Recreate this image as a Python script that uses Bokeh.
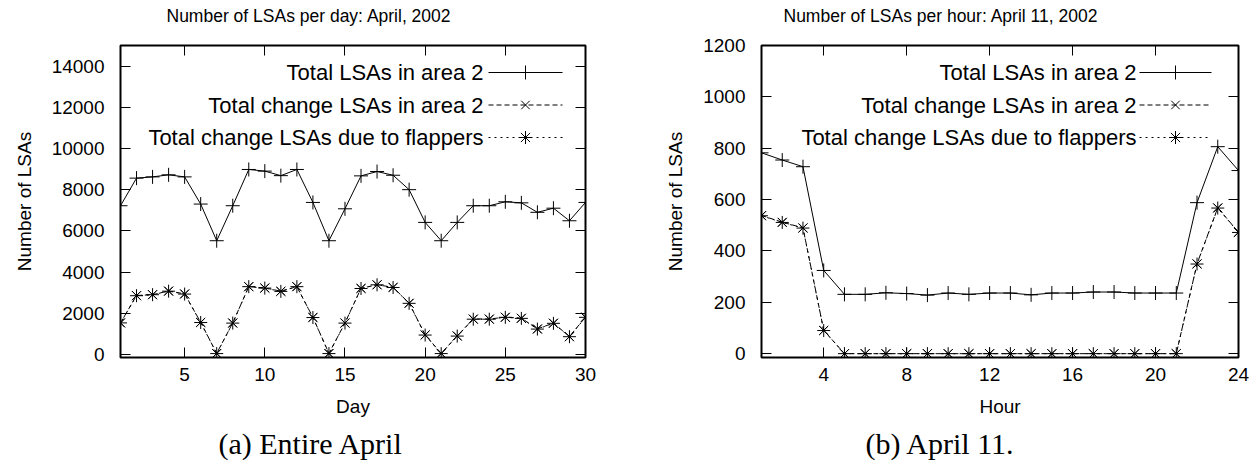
from bokeh.plotting import figure
from bokeh.layouts import row
from bokeh.models import Range1d, FixedTicker, LinearAxis, Title
from bokeh.core.properties import value
from bokeh.embed import file_html
from bokeh.resources import INLINE

# ---------------- data ----------------
days = list(range(1, 31))
april_total = [7220, 8560, 8620, 8720, 8620, 7300, 5520, 7220, 8980, 8900,
               8680, 8980, 7380, 5520, 7070, 8670, 8880, 8700, 8000, 6410,
               5520, 6410, 7220, 7220, 7410, 7360, 6900, 7100, 6490, 7380]
april_change = [1530, 2860, 2900, 3080, 2940, 1560, 50, 1530, 3290, 3230,
                3070, 3290, 1800, 50, 1530, 3210, 3380, 3260, 2490, 950,
                50, 900, 1720, 1720, 1810, 1760, 1240, 1520, 870, 1810]
april_flappers = [1530, 2850, 2900, 3070, 2930, 1550, 40, 1520, 3290, 3220,
                  3060, 3290, 1790, 40, 1520, 3200, 3380, 3250, 2480, 940,
                  40, 890, 1710, 1710, 1800, 1750, 1230, 1510, 860, 1800]

hours = list(range(1, 25))
hour_total = [782, 754, 728, 324, 231, 231, 237, 234, 228, 236, 231, 236,
              236, 229, 236, 236, 240, 240, 236, 236, 236, 588, 806, 713]
hour_change = [538, 512, 490, 91, 0, 0, 0, 0, 0, 0, 0, 0,
               0, 0, 0, 0, 0, 0, 0, 0, 0, 350, 568, 473]
hour_flappers = [537, 511, 489, 90, 0, 0, 0, 0, 0, 0, 0, 0,
                 0, 0, 0, 0, 0, 0, 0, 0, 0, 349, 567, 472]

series_labels = ["Total LSAs in area 2",
                 "Total change LSAs in area 2",
                 "Total change LSAs due to flappers"]

day_ticks = [5, 10, 15, 20, 25, 30]
day_count_ticks = [0, 2000, 4000, 6000, 8000, 10000, 12000, 14000]
hour_ticks = [4, 8, 12, 16, 20, 24]
hour_count_ticks = [0, 200, 400, 600, 800, 1000, 1200]

FONT = "Liberation Sans"
SERIF = "Liberation Serif"

styles = [dict(dash="solid", marker="cross", msize=14),
          dict(dash="5 3", marker="x", msize=12),
          dict(dash="2 4", marker="asterisk", msize=13)]


def make_panel(x, ys, xr, yr, xticks, yticks, xlabel, title, caption,
               bl, br, title_off, cap_off, leg):
    W, H = 629, 468
    bt, bb = 45, 111
    p = figure(width=W, height=H, output_backend="svg", toolbar_location=None,
               x_range=Range1d(*xr), y_range=Range1d(*yr),
               min_border_left=bl, min_border_right=br,
               min_border_top=bt, min_border_bottom=bb,
               x_axis_label=xlabel, y_axis_label="Number of LSAs")
    p.grid.visible = False
    p.background_fill_color = "white"
    p.border_fill_color = "white"
    p.outline_line_color = "black"
    p.outline_line_width = 2
    p.outline_line_alpha = 1

    for ax, tk in ((p.xaxis[0], xticks), (p.yaxis[0], yticks)):
        ax.ticker = FixedTicker(ticks=tk)
        ax.minor_tick_line_color = None
        ax.major_tick_in = 10
        ax.major_tick_out = 0
        ax.major_tick_line_color = "black"
        ax.axis_line_color = None
        ax.major_label_text_font = FONT
        ax.major_label_text_font_size = "19px"
        ax.major_label_text_color = "black"
        ax.axis_label_text_font = FONT
        ax.axis_label_text_font_size = "19px"
        ax.axis_label_text_font_style = "normal"
        ax.axis_label_text_color = "black"
    p.xaxis[0].major_label_standoff = 10
    p.xaxis[0].axis_label_standoff = 12
    p.yaxis[0].major_label_standoff = 16
    p.yaxis[0].axis_label_standoff = 14

    # mirror ticks
    for side, tk in (("above", xticks), ("right", yticks)):
        ax = LinearAxis(ticker=FixedTicker(ticks=tk))
        ax.minor_tick_line_color = None
        ax.major_tick_in = 10
        ax.major_tick_out = 0
        ax.axis_line_color = None
        ax.major_label_text_font_size = "0px"
        ax.major_label_standoff = 0
        ax.major_label_text_color = None
        p.add_layout(ax, side)

    p.add_layout(Title(text=title + "\n", align="left", offset=title_off,
                       text_font=FONT, text_font_size="17.5px",
                       text_font_style="normal", text_color="black",
                       standoff=0), "above")
    p.add_layout(Title(text=caption, align="left", offset=cap_off,
                       text_font=SERIF, text_font_size="30px",
                       text_font_style="normal", text_color="black",
                       standoff=10), "below")

    # series (draw flappers first, then change, then total)
    for i in (2, 1, 0):
        st = styles[i]
        p.line(x, ys[i], line_color="black", line_width=1, line_dash=st["dash"])
        p.scatter(x, ys[i], marker=st["marker"], size=st["msize"],
                  line_color="black", line_width=1)

    # legend (text right-aligned, sample on the right, like gnuplot)
    fw = W - bl - br
    fh = H - bt - bb
    def dx(px):
        return xr[0] + px / fw * (xr[1] - xr[0])
    def dy(py):
        return yr[1] - py / fh * (yr[1] - yr[0])
    text_end, s0, s1, row0, rstep = leg
    tx, ty, tt = [], [], []
    for i, lab in enumerate(series_labels):
        yy = dy(row0 + i * rstep)
        tx.append(dx(text_end)); ty.append(yy); tt.append(lab)
        st = styles[i]
        p.segment(x0=[dx(s0)], y0=[yy], x1=[dx(s1)], y1=[yy],
                  line_color="black", line_width=1, line_dash=st["dash"])
        p.scatter([dx((s0 + s1) / 2)], [yy], marker=st["marker"],
                  size=st["msize"], line_color="black", line_width=1)
    p.text(tx, ty, text=tt, text_align="right", text_baseline="middle",
           text_font=value(FONT), text_font_size="22px", text_color="black")
    return p


p1 = make_panel(days, [april_total, april_change, april_flappers],
                (1, 30), (-150, 15000), day_ticks, day_count_ticks, "Day",
                "Number of LSAs per day: April, 2002", "(a) Entire April",
                120, 44, 46, 98, (363, 368, 442, 27, 32.5))
p2 = make_panel(hours, [hour_total, hour_change, hour_flappers],
                (1, 24), (-15, 1200), hour_ticks, hour_count_ticks, "Hour",
                "Number of LSAs per hour: April 11, 2002", "(b) April 11.",
                132, 20, 22, 104, (375, 378, 450, 27, 32.5))

layout = row(p1, p2)
open("out.html", "w").write(file_html(layout, INLINE))
